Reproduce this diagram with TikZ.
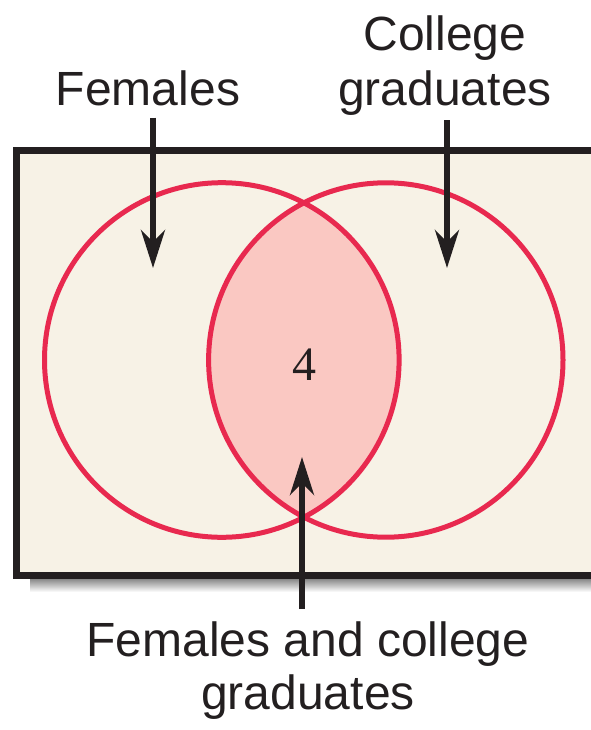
\documentclass[tikz,border=0pt]{standalone}
\usepackage{fontspec}
\setmainfont{Liberation Sans}
\newfontfamily\numfont{Liberation Serif}
\usetikzlibrary{arrows.meta}
\definecolor{ink}{HTML}{231F20}
\definecolor{vred}{HTML}{E8294F}
\definecolor{lens}{HTML}{FAC8C2}
\definecolor{paper}{HTML}{F7F2E6}
\definecolor{shade}{HTML}{DCDCDE}
\begin{document}
\begin{tikzpicture}[x=1pt,y=-1pt,
  lbl/.style={font=\fontsize{48}{45}\selectfont, text=ink, anchor=base, inner sep=3pt},
  arr/.style={draw=ink, line width=5.5pt, -{Stealth[length=38pt,width=24pt,inset=12pt]}},
  setc/.style={draw=vred, line width=5pt}]
\useasboundingbox (0,0) rectangle (590,730);
% shadow and frame
\fill[shade] (30,578) rectangle (610,592);
\draw[ink, line width=7pt, fill=paper] (16.5,150.5) rectangle (620,575);
% lens
\begin{scope}
  \clip (221.8,360) circle (177.3);
  \fill[lens] (385.8,360) circle (177.2);
\end{scope}
\draw[setc] (221.8,360) circle (177.3);
\draw[setc] (385.8,360) circle (177.2);
\node[font=\numfont\fontsize{48}{48}\selectfont, text=ink] (four) at (304,365) {4};
% labels
\node[lbl] (fem) at (148,106) {Females};
\node[lbl] (col1) at (445,51) {College};
\node[lbl] (col2) at (445,106) {graduates};
\node[lbl] (fc1) at (308,656) {Females and college};
\node[lbl] (fc2) at (308,709) {graduates};
% arrow ends
\coordinate (femtip) at (153,268);
\coordinate (coltip) at (447,268);
\coordinate (lenstip) at (302,457);
\draw[arr, shorten <=8pt] (fem.south -| femtip) -- (femtip);
\draw[arr, shorten <=1pt] (col2.south -| coltip) -- (coltip);
\draw[arr, shorten <=9pt] (fc1.north -| lenstip) -- (lenstip);
\end{tikzpicture}
\end{document}
